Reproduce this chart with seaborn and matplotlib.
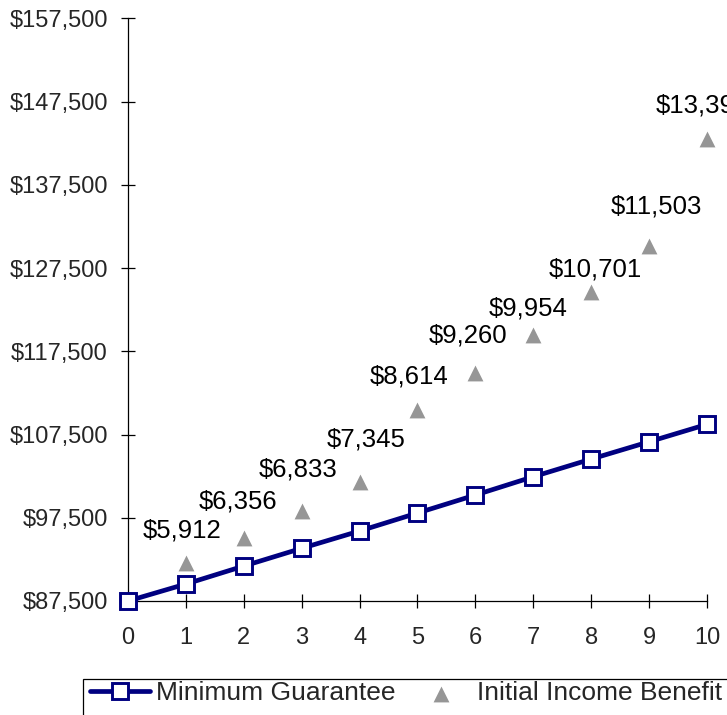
import matplotlib
matplotlib.use("Agg")
import matplotlib.pyplot as plt
from matplotlib.patches import Rectangle
from matplotlib.ticker import FuncFormatter, FixedLocator
import seaborn as sns
import pandas as pd

# Contract years
years = [0, 1, 2, 3, 4, 5, 6, 7, 8, 9, 10]

# Guaranteed minimum benefit base by year
minimum_guarantee = [87500, 89540, 91700, 93830, 95910, 98070,
                     100230, 102430, 104550, 106630, 108720]

# Benefit base that determines the initial income, years 1-10
benefit_years = [1, 2, 3, 4, 5, 6, 7, 8, 9, 10]
income_base = [92030, 95030, 98310, 101830, 110440,
               114850, 119450, 124650, 130170, 142990]

# Annual initial income shown above each point
initial_income = [5912, 6356, 6833, 7345, 8614,
                  9260, 9954, 10701, 11503, 13397]

# Y-axis tick values
y_ticks = [87500, 97500, 107500, 117500, 127500, 137500, 147500, 157500]

NAVY = "#000080"
GREY = "#969696"

sns.set_theme(style="white")
plt.rcParams["font.family"] = ["Liberation Sans", "DejaVu Sans"]

fig = plt.figure(figsize=(7.27, 7.15), dpi=100)
ax = fig.add_axes([128 / 727, 1 - 601 / 715, (707 - 128) / 727, (601 - 18.3) / 715])

guar = pd.DataFrame({"year": years, "value": minimum_guarantee})
inc = pd.DataFrame({"year": benefit_years, "value": income_base, "income": initial_income})

sns.lineplot(data=guar, x="year", y="value", ax=ax, color=NAVY, linewidth=3.4,
             marker="s", markersize=11, markerfacecolor="white",
             markeredgecolor=NAVY, markeredgewidth=2.1, clip_on=False,
             zorder=5, label="Minimum Guarantee")
sns.scatterplot(data=inc, x="year", y="value", ax=ax, color=GREY, marker="^",
                s=130, linewidth=0, zorder=4, clip_on=False,
                label="Initial Income Benefit")

# Income labels, nudged (pixels) to sit clear of the markers
label_nudges = [(-4, 33), (-6, 37), (-4, 42), (7, 42), (-8, 34),
                (-7, 38), (-5, 27), (4, 22), (7, 39), (-5, 34)]
for (x, y, amt), (dx, dy) in zip(zip(benefit_years, income_base, initial_income), label_nudges):
    ax.annotate(f"${amt:,}", xy=(x, y), xytext=(dx, dy), textcoords="offset pixels",
                ha="center", va="center", fontsize=18.5, color="black",
                annotation_clip=False)

ax.set_xlim(0, 10)
ax.set_ylim(87500, 157500)
ax.xaxis.set_major_locator(FixedLocator(years))
ax.yaxis.set_major_locator(FixedLocator(y_ticks))
ax.yaxis.set_major_formatter(FuncFormatter(lambda v, p: f"${v:,.0f}"))
ax.set_xlabel("")
ax.set_ylabel("")

for side in ("top", "right"):
    ax.spines[side].set_visible(False)
for side in ("left", "bottom"):
    ax.spines[side].set_color("black")
    ax.spines[side].set_linewidth(0.9)

ax.tick_params(axis="y", direction="inout", length=10.3, width=0.9, color="black",
               labelsize=17, pad=9.4, left=True)
ax.tick_params(axis="x", direction="inout", length=10.5, width=0.9, color="black",
               labelsize=17, pad=13.3, bottom=True)

# Legend along the bottom edge
handles, labels = ax.get_legend_handles_labels()
ax.get_legend().remove()
fig.patches.append(Rectangle((82.5 / 727, -0.05), 1.0, (1 - 679 / 715) + 0.05,
                             transform=fig.transFigure, facecolor="white",
                             edgecolor="black", linewidth=0.9))
fig.legend(handles, labels, loc="center left", bbox_to_anchor=(90 / 727, 1 - 693.5 / 715),
           ncol=2, frameon=False, fontsize=19, handlelength=2.27, handletextpad=0.23,
           columnspacing=0.6, borderpad=0, borderaxespad=0)

fig.savefig("out.png", dpi=100)
